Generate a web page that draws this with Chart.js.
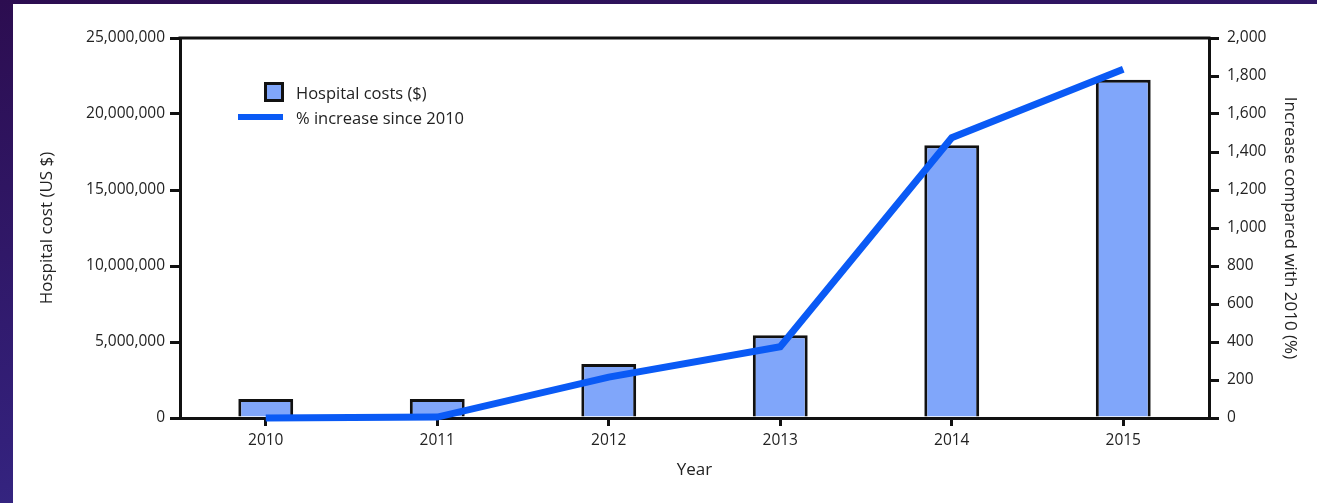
<!DOCTYPE html>
<html>
<head>
<meta charset="utf-8">
<script src="https://cdn.jsdelivr.net/npm/chart.js@4.4.1/dist/chart.umd.min.js"></script>
<style>
    html, body { margin: 0; padding: 0; width: 1317px; height: 503px; overflow: hidden; }
    body { background: linear-gradient(170deg, #2c0d50 0%, #33207a 60%, #3a3394 100%); font-family: "Open Sans", sans-serif; }
    #panel { position: absolute; left: 13px; top: 4px; width: 1304px; height: 499px; background: #fff; }
    .legend-row { position: absolute; left: 237px; height: 22px; display: flex; align-items: center; color: #222; font-size: 16.5px; }
    .swatch-box { width: 20px; height: 20px; box-sizing: border-box; border: 3px solid #111; background: #80a6fa; margin-left: 27px; }
    .swatch-line { width: 45px; height: 6px; background: #0a5af5; margin-left: 1px; }
    .legend-row span { position: absolute; left: 59px; white-space: nowrap; }
</style>
</head>
<body>
<div id="panel"><canvas id="costChart"></canvas></div>
<div class="legend-row" style="top: 81px;"><div class="swatch-box"></div><span>Hospital costs ($)</span></div>
<div class="legend-row" style="top: 106px;"><div class="swatch-line"></div><span>% increase since 2010</span></div>
<script>
// data
const years = ["2010", "2011", "2012", "2013", "2014", "2015"];
const hospitalCosts = [1250000, 1250000, 3550000, 5450000, 17950000, 22250000];
const pctIncrease = [0, 5, 215, 375, 1475, 1835];

const costTicks = [0, 5000000, 10000000, 15000000, 20000000, 25000000];
const pctTicks = [0, 200, 400, 600, 800, 1000, 1200, 1400, 1600, 1800, 2000];

const textColor = "#222";
const axisFont = { family: "Open Sans", size: 15.5 };
const titleFont = { family: "Open Sans", size: 17 };

// top edge of the plot box
const frameTop = {
    id: "frameTop",
    afterDraw(chart) {
        const { ctx, chartArea } = chart;
        ctx.save();
        ctx.strokeStyle = "#111";
        ctx.lineWidth = 3;
        ctx.beginPath();
        ctx.moveTo(chartArea.left - 1.5, chartArea.top);
        ctx.lineTo(chartArea.right + 1.5, chartArea.top);
        ctx.stroke();
        ctx.restore();
    }
};

const ctx = document.getElementById("costChart").getContext("2d");
new Chart(ctx, {
    data: {
        labels: years,
        datasets: [
            {
                type: "line",
                label: "% increase since 2010",
                data: pctIncrease,
                yAxisID: "y1",
                borderColor: "#0a5af5",
                borderWidth: 7,
                pointRadius: 0,
                tension: 0,
                clip: false,
                order: 0
            },
            {
                type: "bar",
                label: "Hospital costs ($)",
                data: hospitalCosts,
                yAxisID: "y",
                backgroundColor: "#80a6fa",
                borderColor: "#111",
                borderWidth: 3,
                categoryPercentage: 1,
                barPercentage: 0.32,
                order: 1
            }
        ]
    },
    options: {
        responsive: true,
        maintainAspectRatio: false,
        animation: false,
        layout: { padding: { top: 34, left: 0, right: 0, bottom: 0 } },
        plugins: {
            legend: { display: false },
            tooltip: { enabled: false }
        },
        scales: {
            x: {
                offset: true,
                grid: { display: true, drawOnChartArea: false, offset: false, tickLength: 8, color: "#111", lineWidth: 3 },
                border: { display: true, color: "#111", width: 3 },
                ticks: { color: textColor, font: axisFont, padding: 5 },
                title: { display: true, text: "Year", color: textColor, font: titleFont, padding: { top: 0, bottom: 23 } },
                afterFit(scale) { scale.height = 85; }
            },
            y: {
                position: "left",
                min: 0,
                max: 25000000,
                afterBuildTicks(scale) { scale.ticks = costTicks.map(v => ({ value: v })); },
                grid: { display: true, drawOnChartArea: false, tickLength: 10, color: "#111", lineWidth: 3 },
                border: { display: true, color: "#111", width: 3 },
                ticks: { color: textColor, font: axisFont, padding: 5, callback: v => v.toLocaleString("en-US") },
                title: { display: true, text: "Hospital cost (US $)", color: textColor, font: titleFont, padding: { top: 24, bottom: 0 } },
                afterFit(scale) { scale.width = 167; }
            },
            y1: {
                position: "right",
                min: 0,
                max: 2000,
                afterBuildTicks(scale) { scale.ticks = pctTicks.map(v => ({ value: v })); },
                grid: { display: true, drawOnChartArea: false, tickLength: 10, color: "#111", lineWidth: 3 },
                border: { display: true, color: "#111", width: 3 },
                ticks: { color: textColor, font: axisFont, padding: 8, callback: v => v.toLocaleString("en-US") },
                title: { display: true, text: "Increase compared with 2010 (%)", color: textColor, font: titleFont, padding: { top: 17, bottom: 0 } },
                afterFit(scale) { scale.width = 108; }
            }
        }
    },
    plugins: [frameTop]
});
</script>
</body>
</html>
